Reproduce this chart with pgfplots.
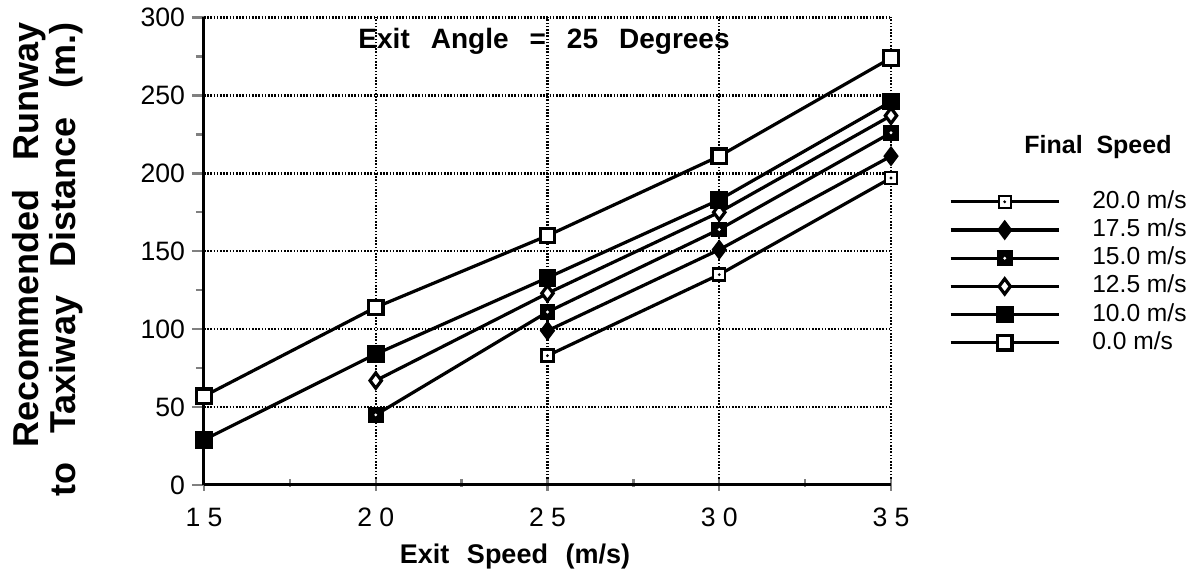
\documentclass[border=0pt]{standalone}
\usepackage{fontspec}
\setmainfont{Liberation Sans}
\usepackage{pgfplots}
\pgfplotsset{compat=1.18}

\pgfdeclareplotmark{sqdot}{%
  \pgfsetfillcolor{white}%
  \pgfpathrectangle{\pgfpoint{-\pgfplotmarksize}{-\pgfplotmarksize}}{\pgfpoint{2\pgfplotmarksize}{2\pgfplotmarksize}}%
  \pgfusepathqfillstroke
  \pgfsetfillcolor{black}%
  \pgfpathcircle{\pgfpointorigin}{0.8pt}%
  \pgfusepathqfill}
\pgfdeclareplotmark{fsqdot}{%
  \pgfsetfillcolor{black}%
  \pgfpathrectangle{\pgfpoint{-\pgfplotmarksize}{-\pgfplotmarksize}}{\pgfpoint{2\pgfplotmarksize}{2\pgfplotmarksize}}%
  \pgfusepathqfillstroke
  \pgfsetfillcolor{white}%
  \pgfpathcircle{\pgfpointorigin}{0.8pt}%
  \pgfusepathqfill}

\begin{document}
\begin{tikzpicture}
\useasboundingbox (-102pt,-48pt) rectangle (498pt,242.5pt);
\begin{axis}[
  at={(0,0)}, anchor=south west,
  scale only axis,
  width=343.5pt, height=233.75pt,
  xmin=15, xmax=35, ymin=0, ymax=300,
  clip=false,
  xtick={15,20,25,30,35},
  xticklabels={1 5,2 0,2 5,3 0,3 5},
  ytick={0,50,100,150,200,250,300},
  minor xtick={17.5,22.5,27.5,32.5},
  minor ytick={25,75,125,175,225,275},
  axis x line*=bottom, axis y line*=left,
  axis line style={-, line width=1.5pt},
  tick align=outside,
  xtick style={line width=1.2pt, yshift=3pt},
  ytick style={line width=1.2pt},
  major tick length=6pt, minor tick length=4pt,
  grid=major,
  major grid style={dash pattern=on 0.8pt off 0.8pt, line width=1.2pt, black},
  ticklabel style={font=\fontsize{13.3}{15}\selectfont},
  /pgf/number format/assume math mode=true,
  xticklabel style={yshift=-2pt},
  xlabel={\bfseries Exit\hspace{0.65em}Speed\hspace{0.65em}(m/s)},
  xlabel style={at={(axis description cs:0,0)}, anchor=center, xshift=155.5pt, yshift=-36pt, font=\fontsize{13.5}{15}\selectfont},
  ylabel={\bfseries Recommended\hspace{0.8em}Runway\\ \bfseries to\hspace{0.8em}Taxiway\hspace{0.8em}Distance\hspace{0.8em}(m.)},
  ylabel style={at={(axis description cs:0,0.5)}, anchor=center, yshift=78pt, xshift=-4pt, align=right, font=\fontsize{18}{18.5}\selectfont},
  every axis plot/.append style={line width=1.6pt, black, mark options={solid, line width=1.2pt}},
  legend style={at={(axis description cs:1.084,0.629)}, anchor=north west, draw=none, fill=none,
    inner sep=0pt, font=\fontsize{12.3}{13}\selectfont, row sep=3.6pt, column sep=0pt,
    nodes={inner xsep=16pt, inner ysep=0pt, text height=8.5pt, text depth=2pt}},
  legend cell align=left,
  legend image code/.code={\draw[mark repeat=2, mark phase=2] plot coordinates {(0pt,0pt)(27pt,0pt)(54pt,0pt)};},
]
\addplot[mark=sqdot, mark size=3pt] coordinates {(25,83)(30,135)(35,197)};
\addlegendentry{20.0 m/s}
\addplot[mark=diamond*, mark size=3.8pt, mark options={fill=black}] coordinates {(25,99)(30,151)(35,211)};
\addlegendentry{17.5 m/s}
\addplot[mark=fsqdot, mark size=3.3pt] coordinates {(20,45)(25,111)(30,164)(35,226)};
\addlegendentry{15.0 m/s}
\addplot[mark=diamond*, mark size=3.8pt, mark options={fill=white}] coordinates {(20,67)(25,123)(30,175)(35,237)};
\addlegendentry{12.5 m/s}
\addplot[mark=square*, mark size=3.6pt, mark options={fill=black}] coordinates {(15,29)(20,84)(25,133)(30,183)(35,246)};
\addlegendentry{10.0 m/s}
\addplot[mark=square*, mark size=3.6pt, mark options={fill=white}] coordinates {(15,57)(20,114)(25,160)(30,211)(35,274)};
\addlegendentry{0.0 m/s}
\node[font=\fontsize{14}{15}\selectfont\bfseries] at (axis cs:24.9,284.5) {Exit\hspace{0.75em}Angle\hspace{0.75em}=\hspace{0.75em}25\hspace{0.75em}Degrees};
\node[font=\fontsize{12.5}{15}\selectfont\bfseries] at (axis description cs:1.3013,0.723) {Final\hspace{0.55em}Speed};
\end{axis}
\end{tikzpicture}
\end{document}
